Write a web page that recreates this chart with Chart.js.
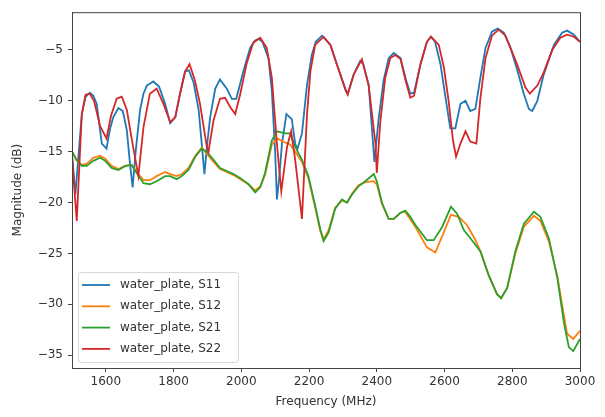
<!DOCTYPE html>
<html>
<head>
<meta charset="utf-8">
<script src="https://cdn.jsdelivr.net/npm/chart.js@4"></script>
<style>
  html, body { margin: 0; padding: 0; background: #fff; }
  #wrap { width: 605px; height: 417px; }
</style>
</head>
<body>
<div id="wrap"><canvas id="sparamChart" width="605" height="417"></canvas></div>
<script>
// values (MHz, dB)
const s11Freq = [1500,1510,1529,1540,1553,1563,1573,1588,1602,1612,1622,1637,1650,1662,1671,1679,1688,1701,1711,1721,1740,1757,1775,1790,1805,1819,1834,1845,1859,1874,1883,1891,1900,1908,1923,1937,1957,1972,1985,2006,2026,2040,2051,2062,2080,2090,2100,2105,2112,2120,2133,2149,2159,2165,2179,2194,2208,2220,2238,2263,2282,2307,2314,2332,2351,2360,2376,2386,2393,2405,2420,2435,2450,2470,2485,2499,2510,2529,2548,2560,2572,2588,2603,2617,2632,2647,2662,2676,2691,2706,2721,2740,2757,2775,2795,2814,2834,2849,2859,2874,2893,2923,2947,2962,2982,3000];
const s11Vals = [-15.2,-19.2,-11.3,-9.6,-9.2,-9.5,-10.3,-14.2,-14.7,-12.8,-11.6,-10.7,-11.0,-12.9,-16.1,-18.5,-15.0,-10.9,-9.3,-8.5,-8.1,-8.6,-10.3,-12.2,-11.6,-9.3,-7.1,-7.0,-8.2,-10.9,-14.2,-17.2,-14.0,-11.6,-8.8,-7.9,-8.8,-9.8,-9.8,-7.1,-4.8,-4.1,-3.9,-4.2,-5.8,-9.0,-15.1,-19.7,-17.5,-14.2,-11.3,-11.8,-14.2,-14.8,-13.2,-8.4,-5.5,-4.2,-3.6,-4.5,-6.4,-8.8,-9.3,-7.4,-6.1,-6.4,-8.4,-12.9,-16.0,-11.9,-8.0,-5.8,-5.3,-5.8,-7.8,-9.3,-9.2,-6.4,-4.2,-3.7,-4.2,-6.4,-9.7,-12.7,-12.7,-10.3,-10.0,-11.0,-10.8,-7.7,-4.8,-3.2,-2.9,-3.3,-4.8,-6.9,-9.3,-10.8,-11.0,-10.0,-7.4,-4.5,-3.3,-3.1,-3.5,-4.2];

const s12Freq = [1500,1514,1529,1543,1563,1583,1598,1617,1637,1657,1676,1691,1711,1730,1750,1775,1790,1809,1824,1844,1864,1883,1898,1918,1937,1957,1977,1997,2021,2041,2056,2070,2090,2105,2130,2144,2159,2179,2198,2218,2233,2243,2258,2277,2297,2312,2327,2346,2366,2391,2400,2415,2435,2450,2470,2484,2514,2548,2573,2598,2619,2642,2666,2690,2706,2730,2755,2767,2785,2809,2834,2864,2883,2908,2933,2953,2962,2980,3000];
const s12Vals = [-15.0,-15.9,-16.3,-16.2,-15.6,-15.4,-15.7,-16.4,-16.7,-16.4,-16.3,-17.0,-17.8,-17.8,-17.4,-17.0,-17.2,-17.4,-17.2,-16.6,-15.4,-14.6,-15.2,-16.0,-16.7,-17.0,-17.3,-17.7,-18.2,-18.8,-18.4,-17.3,-14.3,-13.7,-14.1,-14.3,-15.0,-16.0,-17.6,-20.5,-22.8,-23.6,-22.7,-20.5,-19.8,-20.0,-19.1,-18.3,-18.0,-17.9,-18.2,-20.1,-21.6,-21.6,-21.0,-20.9,-22.4,-24.4,-24.9,-22.9,-21.2,-21.4,-22.2,-23.6,-24.8,-27.1,-29.0,-29.4,-28.4,-25.0,-22.4,-21.3,-21.8,-23.8,-27.2,-31.2,-32.9,-33.4,-32.6];

const s21Freq = [1500,1514,1529,1543,1563,1583,1598,1617,1637,1657,1676,1691,1711,1730,1750,1775,1790,1809,1824,1844,1864,1883,1898,1918,1937,1957,1977,1997,2021,2041,2056,2070,2090,2105,2130,2144,2159,2179,2198,2218,2233,2243,2258,2277,2297,2312,2327,2346,2366,2391,2400,2415,2435,2450,2470,2484,2499,2514,2548,2568,2593,2619,2637,2657,2681,2706,2730,2755,2767,2785,2809,2834,2864,2883,2908,2933,2953,2967,2980,3000];
const s21Vals = [-15.0,-15.8,-16.4,-16.4,-15.9,-15.6,-15.9,-16.6,-16.8,-16.4,-16.3,-17.1,-18.1,-18.2,-17.9,-17.4,-17.4,-17.7,-17.4,-16.8,-15.5,-14.7,-15.0,-15.8,-16.6,-16.9,-17.2,-17.6,-18.2,-19.0,-18.5,-17.1,-13.9,-13.0,-13.2,-13.2,-14.5,-15.8,-17.4,-20.3,-22.6,-23.8,-22.9,-20.6,-19.7,-20.0,-19.2,-18.4,-17.9,-17.2,-17.9,-20.0,-21.6,-21.6,-21.0,-20.8,-21.4,-22.2,-23.7,-23.7,-22.4,-20.4,-21.1,-22.7,-23.7,-24.8,-27.1,-29.0,-29.4,-28.4,-24.8,-22.1,-20.9,-21.4,-23.5,-27.4,-31.9,-34.2,-34.6,-33.4];

const s22Freq = [1500,1514,1529,1540,1553,1565,1583,1602,1615,1632,1647,1662,1675,1696,1711,1730,1750,1770,1790,1805,1819,1834,1847,1863,1878,1898,1903,1918,1937,1952,1967,1982,1997,2016,2035,2056,2075,2090,2105,2118,2135,2147,2159,2169,2179,2194,2204,2218,2243,2263,2282,2307,2314,2332,2356,2376,2396,2400,2410,2425,2440,2455,2470,2485,2499,2510,2529,2548,2560,2583,2598,2612,2625,2634,2647,2662,2676,2694,2706,2721,2740,2760,2780,2814,2839,2852,2874,2893,2918,2942,2962,2982,3000];
const s22Vals = [-15.5,-21.8,-11.3,-9.4,-9.3,-10.0,-12.5,-13.7,-11.5,-9.8,-9.6,-10.9,-13.5,-17.4,-12.6,-9.3,-8.8,-10.3,-12.1,-11.6,-9.3,-7.1,-6.4,-8.0,-10.3,-14.5,-15.0,-11.9,-9.8,-9.7,-10.6,-11.3,-9.3,-6.3,-4.3,-3.8,-4.8,-7.7,-14.2,-18.9,-14.5,-13.0,-15.8,-18.7,-21.6,-11.3,-7.1,-4.5,-3.7,-4.5,-6.4,-8.9,-9.4,-7.4,-5.9,-8.5,-14.2,-17.1,-12.2,-7.7,-5.8,-5.5,-5.9,-8.0,-9.7,-9.5,-6.4,-4.2,-3.7,-4.5,-6.7,-10.0,-13.9,-15.5,-14.2,-13.0,-14.0,-14.2,-9.7,-5.8,-3.6,-3.0,-3.6,-6.4,-8.7,-9.3,-8.5,-7.2,-5.0,-3.8,-3.5,-3.7,-4.2];

const seriesLabels = ['water_plate, S11', 'water_plate, S12', 'water_plate, S21', 'water_plate, S22'];
const seriesColors = ['#1f77b4', '#ff7f0e', '#2ca02c', '#d62728'];
const xTicks = [1600, 1800, 2000, 2200, 2400, 2600, 2800, 3000];
const yTicks = [-35, -30, -25, -20, -15, -10, -5];

const FONT = 'DejaVu Sans';
const TEXT = '#333';

function toPoints(fs, vs) {
  return fs.map((f, i) => ({ x: f, y: vs[i] }));
}

const allFreq = [s11Freq, s12Freq, s21Freq, s22Freq];
const allVals = [s11Vals, s12Vals, s21Vals, s22Vals];

const datasets = seriesLabels.map((lab, i) => ({
  label: lab,
  data: toPoints(allFreq[i], allVals[i]),
  borderColor: seriesColors[i],
  backgroundColor: seriesColors[i],
  borderWidth: 1.8,
  pointRadius: 0,
  tension: 0,
  order: 3 - i // S22 on top, like matplotlib
}));

// box round the axes + legend in the lower left
const framePlugin = {
  id: 'frame',
  afterDraw(chart) {
    const { ctx, chartArea: a } = chart;
    ctx.save();
    ctx.strokeStyle = '#444';
    ctx.lineWidth = 1;
    ctx.strokeRect(a.left + 0.5, a.top + 0.5, a.right - a.left, a.bottom - a.top);

    // legend
    const bx = 78, by = 272, bw = 160, bh = 90;
    ctx.globalAlpha = 0.85;
    ctx.fillStyle = '#fff';
    ctx.strokeStyle = '#d0d0d0';
    ctx.beginPath();
    ctx.roundRect(bx + 0.5, by + 0.5, bw, bh, 3);
    ctx.fill();
    ctx.stroke();
    ctx.globalAlpha = 1;
    ctx.font = '12px "' + FONT + '"';
    ctx.textBaseline = 'middle';
    ctx.fillStyle = TEXT;
    seriesLabels.forEach((lab, i) => {
      const y = by + 13 + i * 21.3;
      ctx.strokeStyle = seriesColors[i];
      ctx.lineWidth = 1.8;
      ctx.beginPath();
      ctx.moveTo(82, y);
      ctx.lineTo(110, y);
      ctx.stroke();
      ctx.fillText(lab, 120, y);
    });
    ctx.restore();
  }
};

const ctx = document.getElementById('sparamChart').getContext('2d');
new Chart(ctx, {
  type: 'line',
  data: { datasets: datasets },
  options: {
    responsive: false,
    animation: false,
    layout: { padding: { top: 7, right: 25, left: 0, bottom: 0 } },
    plugins: {
      legend: { display: false },
      tooltip: { enabled: false }
    },
    scales: {
      x: {
        type: 'linear',
        min: 1500,
        max: 3000,
        afterBuildTicks: s => { s.ticks = xTicks.map(v => ({ value: v })); },
        afterFit: s => { s.height = 49; },
        grid: { drawOnChartArea: false, color: '#444', tickLength: 4 },
        border: { color: '#444' },
        ticks: {
          color: TEXT, font: { family: FONT, size: 12 }, padding: 3,
          maxRotation: 0, autoSkip: false,
          callback: v => String(v)
        },
        title: {
          display: true, text: 'Frequency (MHz)', color: TEXT,
          font: { family: FONT, size: 12 }, padding: { top: 0, bottom: 8 }
        }
      },
      y: {
        type: 'linear',
        min: -36.26,
        max: -1.29,
        afterBuildTicks: s => { s.ticks = yTicks.map(v => ({ value: v })); },
        afterFit: s => { s.width = 72; },
        grid: { drawOnChartArea: false, color: '#444', tickLength: 4 },
        border: { color: '#444' },
        ticks: {
          color: TEXT, font: { family: FONT, size: 12 }, padding: 5,
          autoSkip: false,
          callback: v => String(v).replace('-', '\u2212')
        },
        title: {
          display: true, text: 'Magnitude (dB)', color: TEXT,
          font: { family: FONT, size: 12 }, padding: { top: 11, bottom: 0 }
        }
      }
    }
  },
  plugins: [framePlugin]
});
</script>
</body>
</html>
